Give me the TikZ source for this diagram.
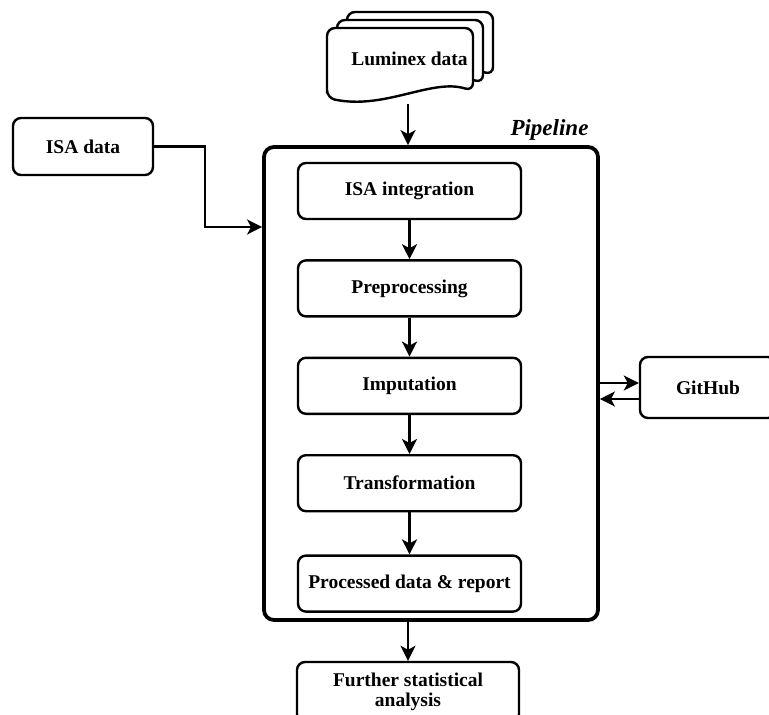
\documentclass[tikz,border=0pt]{standalone}
\usepackage{fontspec}
\setmainfont{Liberation Serif}
\usetikzlibrary{shapes,arrows.meta,calc,positioning}
\tikzset{flow/.style={draw, line width=2.4pt, -{Stealth[length=15pt,width=15pt,inset=4pt]}}}
\tikzset{stepbox/.style={draw, line width=2.4pt, rounded corners=8pt, fill=white, minimum width=223pt, minimum height=56pt, font=\bfseries\fontsize{19.5}{20}\selectfont}}

\begin{document}
\begin{tikzpicture}[x=1pt,y=-1pt,node distance=39pt]
\useasboundingbox (0,0) rectangle (769,715);

% pipeline frame
\node[draw, line width=3.8pt, rounded corners=10pt, minimum width=334pt, minimum height=473pt] (pipe) at (431,383.5) {};
\node[anchor=base east, font=\bfseries\itshape\fontsize{23}{26}\selectfont] (pipelbl) at (592,135) {Pipeline};

% steps
\node[stepbox] (isaint) at (409.5,191) {ISA integration};
\node[stepbox, below=of isaint] (prep) {Preprocessing};
\node[stepbox, below=of prep] (imput) {Imputation};
\node[stepbox, below=of imput] (trans) {Transformation};
\node[stepbox, below=42pt of trans] (proc) {Processed data \& report};

\draw[flow] (isaint) -- (prep);
\draw[flow] (prep) -- (imput);
\draw[flow] (imput) -- (trans);
\draw[flow] (trans) -- (proc);

% luminex document stack
\foreach \dx/\dy in {20/-16,10/-8,0/0}
  \draw[line width=2.4pt, fill=white, rounded corners=8pt, shift={(\dx,\dy)}]
    (327,98) -- (327,28) -- (473,28) -- (473,91)
    .. controls (432,78) and (385,110) .. (327,98) -- cycle;
\node[font=\bfseries\fontsize{19.5}{20}\selectfont] (lum) at (409.5,59) {Luminex data};
\coordinate (lumbot) at (408,104);
\draw[flow] (lumbot) -- (lumbot |- pipe.north);

% isa input
\node[stepbox, minimum width=140pt, minimum height=57pt] (isa) at (83,146.5) {ISA data};
\coordinate (isabend) at (205,227);
\draw[flow] (isa.east) -| (isabend) -- (isabend -| pipe.west);

% github
\node[stepbox, minimum width=136pt, minimum height=61pt] (git) at (708,387.5) {GitHub};
\coordinate (gitin) at ($(git.west)+(0,-4.5)$);
\coordinate (gitout) at ($(git.west)+(0,11.5)$);
\draw[flow] (pipe.east |- gitin) -- (gitin);
\draw[flow] (gitout) -- (pipe.east |- gitout);

% output
\node[stepbox, minimum width=222pt, minimum height=60pt, align=center] (further) at (408,692) {Further statistical\\analysis};
\draw[flow] (further.north |- pipe.south) -- (further.north);
\end{tikzpicture}
\end{document}
